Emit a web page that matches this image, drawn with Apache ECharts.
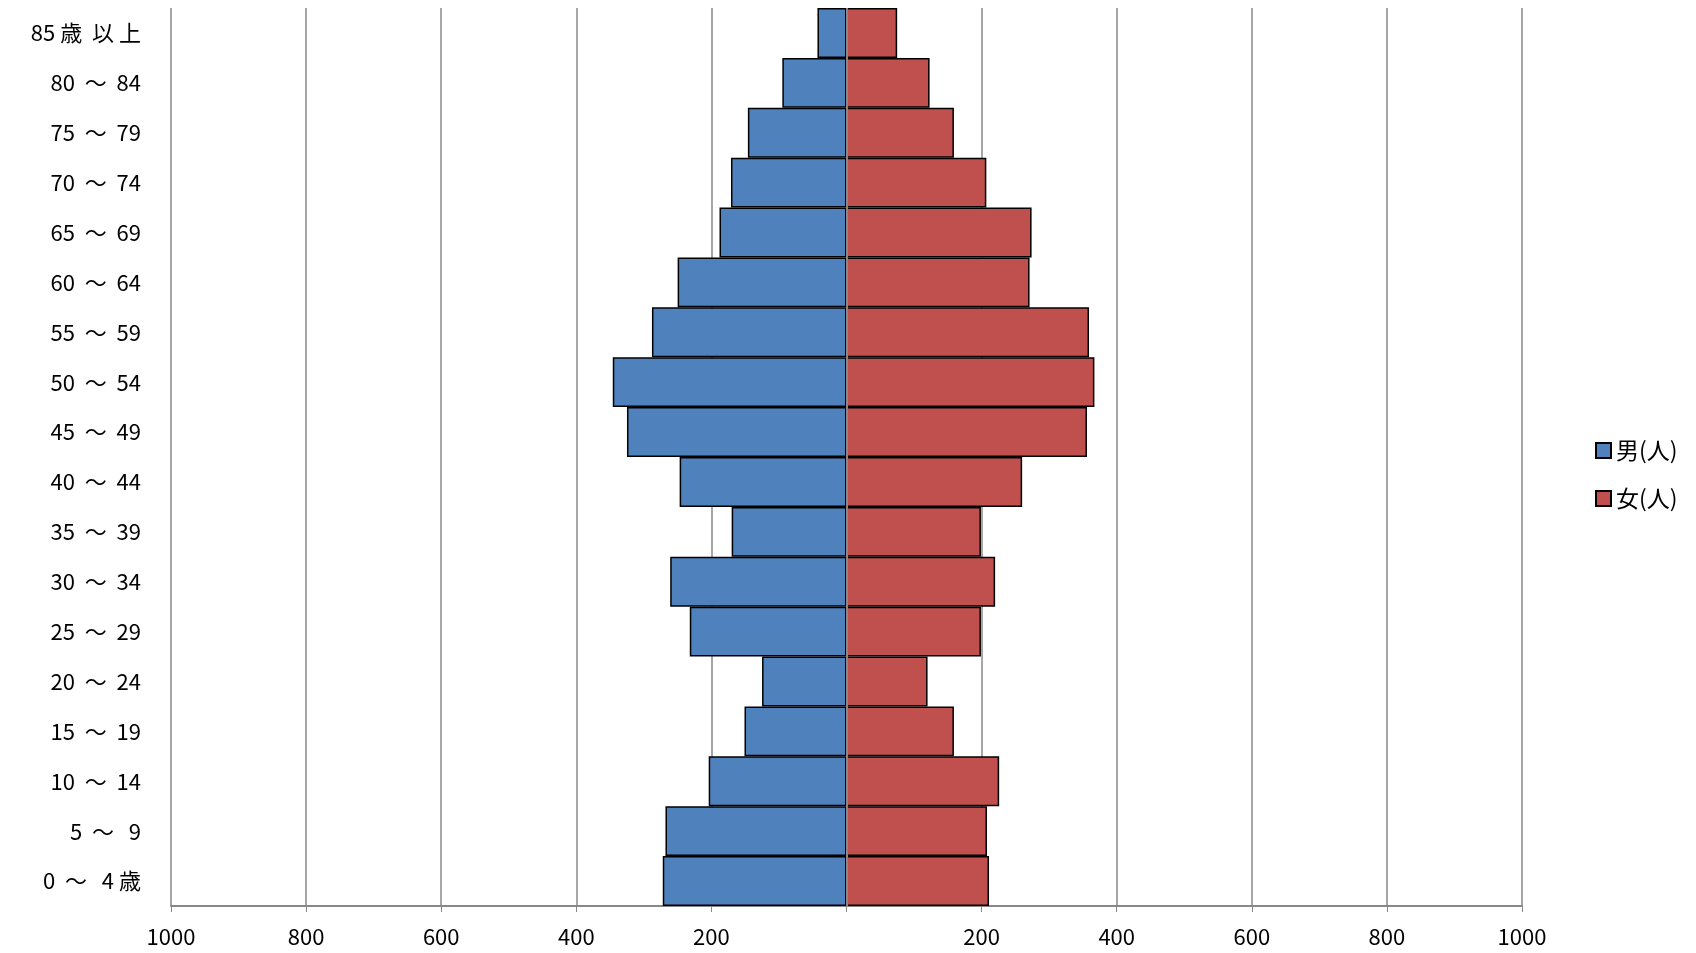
<!DOCTYPE html>
<html><head><meta charset="utf-8">
<script src="https://cdn.jsdelivr.net/npm/echarts@6/dist/echarts.min.js"></script>
<style>html,body{margin:0;background:#fff}#chart{width:1696px;height:953px}</style>
</head><body><div id="chart"></div>
<script>
var ages = ['0  ～   4 歳','5  ～   9','10  ～  14','15  ～  19','20  ～  24','25  ～  29','30  ～  34','35  ～  39','40  ～  44','45  ～  49','50  ～  54','55  ～  59','60  ～  64','65  ～  69','70  ～  74','75  ～  79','80  ～  84','85 歳  以 上'];
var male = [272, 268, 204, 151, 125, 232, 261, 170, 247, 325, 346, 288, 250, 188, 171, 146, 95, 43];
var female = [211, 208, 226, 159, 120, 199, 220, 199, 260, 356, 367, 359, 271, 274, 207, 159, 123, 75];

var chart = echarts.init(document.getElementById('chart'));
chart.setOption({
	animation: false,
	textStyle: {fontFamily: 'Noto Sans CJK JP', color: '#000'},
	legend: {
		orient: 'vertical', left: 1590, top: 434, itemGap: 25,
		itemWidth: 15, itemHeight: 15, icon: 'rect',
		textStyle: {fontSize: 23, color: '#000'},
		data: ['男(人)', '女(人)']
	},
	grid: {left: 171, right: 174, top: 8, bottom: 47},
	xAxis: {
		type: 'value', min: -1000, max: 1000, interval: 200,
		axisLine: {show: true, lineStyle: {color: '#888', width: 2}},
		axisTick: {show: true, length: 6, lineStyle: {color: '#888'}},
		splitLine: {lineStyle: {color: '#888', width: 1.5}},
		axisLabel: {fontSize: 22, color: '#000', margin: 20,
			formatter: function (v) { return v === 0 ? '' : Math.abs(v); }}
	},
	yAxis: {
		type: 'category', data: ages,
		axisLine: {show: false}, axisTick: {show: false},
		axisLabel: {fontSize: 22, color: '#000', margin: 30}
	},
	series: [
		{
			name: '男(人)', type: 'bar', stack: 'p', barCategoryGap: 0,
			itemStyle: {color: '#4f81bd', borderColor: '#000', borderWidth: 1.5},
			data: male.map(function (v) { return -v; }),
			markLine: {symbol: 'none', silent: true, label: {show: false},
				lineStyle: {color: '#888', type: 'solid', width: 2}, data: [{xAxis: 0}]}
		},
		{
			name: '女(人)', type: 'bar', stack: 'p', barCategoryGap: 0,
			itemStyle: {color: '#c0504d', borderColor: '#000', borderWidth: 1.5},
			data: female
		}
	]
});
</script></body></html>
